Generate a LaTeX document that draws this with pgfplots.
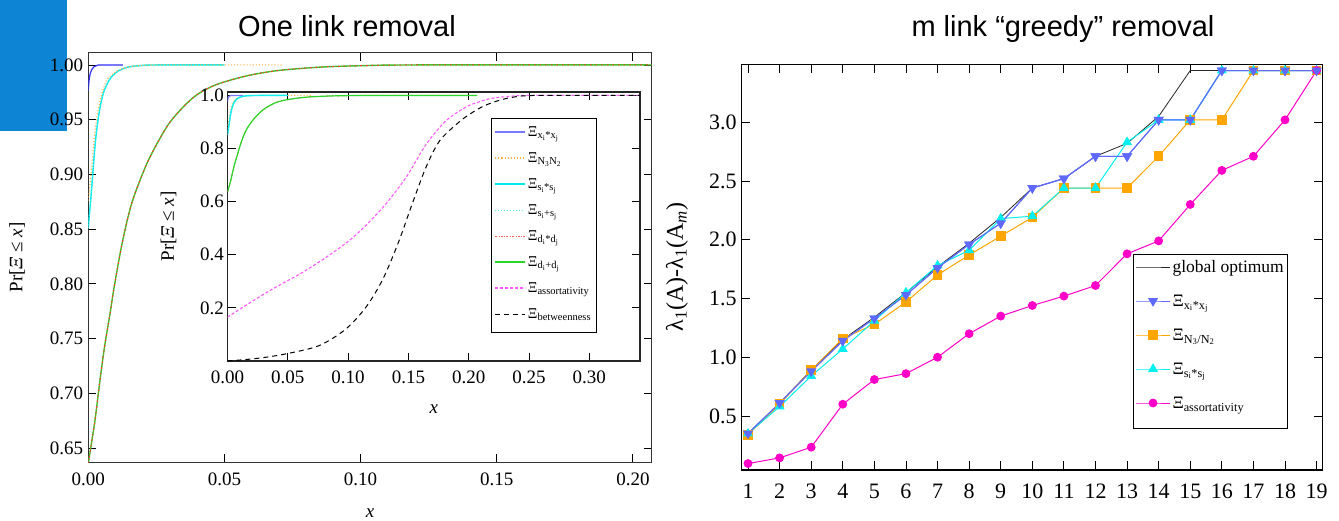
\documentclass[border=0pt]{standalone}
\usepackage{fontspec}
\setmainfont{Liberation Serif}
\newfontfamily\titlesans{Liberation Sans}
\usepackage{pgfplots}
\pgfplotsset{compat=1.18}
\usepackage{pgfplotstable}

\definecolor{slideblue}{RGB}{14,132,212}
\definecolor{cxi}{RGB}{50,50,255}
\definecolor{cxil}{RGB}{120,120,255}
\definecolor{corange}{RGB}{255,176,64}
\definecolor{ccyan}{RGB}{0,235,235}
\definecolor{cred}{RGB}{255,50,50}
\definecolor{cgreen}{RGB}{40,215,40}
\definecolor{cmag}{RGB}{255,90,255}
\definecolor{rblue}{RGB}{95,105,255}
\definecolor{rorange}{RGB}{255,165,0}
\definecolor{rcyan}{RGB}{0,240,240}
\definecolor{rmag}{RGB}{255,0,200}

% ---- One link removal: CDFs ----
\pgfplotstableread{
x y
0 0.9765
0.0003 0.986
0.0007 0.992
0.0012 0.9955
0.002 0.9982
0.0031 0.9995
0.0045 1.0
0.0127 1.0
}\tblXX
\pgfplotstableread{
x y
0 0.876
0.0005 0.888
0.001 0.900
0.0015 0.914
0.002 0.928
0.0025 0.940
0.003 0.950
0.0036 0.959
0.0045 0.969
0.0055 0.978
0.0067 0.986
0.0085 0.991
0.011 0.995
0.0145 0.998
0.019 0.9994
0.025 1.0
0.071 1.0
}\tblNN
\pgfplotstableread{
x y
0 0.851
0.0005 0.866
0.001 0.880
0.0015 0.896
0.002 0.912
0.0025 0.927
0.003 0.939
0.0036 0.950
0.0043 0.961
0.0055 0.974
0.007 0.983
0.0085 0.989
0.011 0.9945
0.0145 0.998
0.019 0.9994
0.025 1.0
0.05 1.0
}\tblSS
\pgfplotstableread{
x y
0 0.636
0.0012 0.655
0.0025 0.676
0.0043 0.712
0.006 0.743
0.008 0.773
0.0095 0.797
0.0125 0.838
0.016 0.874
0.021 0.907
0.025 0.927
0.0295 0.946
0.035 0.962
0.040 0.973
0.046 0.981
0.052 0.986
0.060 0.991
0.070 0.995
0.085 0.998
0.10 0.9993
0.12 1.0
0.207 1.0
}\tblDD
\pgfplotstableread{
x y
0 0.165
0.016 0.212
0.032 0.257
0.046 0.293
0.0597 0.327
0.08 0.385
0.1005 0.452
0.115 0.512
0.131 0.590
0.148 0.691
0.1646 0.815
0.181 0.904
0.198 0.957
0.21 0.978
0.22 0.99
0.235 0.997
0.25 1.0
0.342 1.0
}\tblAS
\pgfplotstableread{
x y
0 0.0
0.025 0.01
0.0486 0.027
0.076 0.058
0.098 0.12
0.115 0.204
0.129 0.31
0.142 0.45
0.153 0.59
0.1646 0.73
0.176 0.83
0.192 0.90
0.201 0.93
0.211 0.957
0.222 0.977
0.235 0.992
0.255 1.0
0.342 1.0
}\tblBT

% ---- m link greedy removal ----
\pgfplotstableread{
n opt xx nn ss as
1 0.35 0.35 0.34 0.35 0.095
2 0.61 0.61 0.60 0.58 0.143
3 0.89 0.88 0.89 0.84 0.234
4 1.15 1.14 1.16 1.07 0.60
5 1.34 1.33 1.28 1.31 0.81
6 1.55 1.53 1.47 1.55 0.86
7 1.77 1.76 1.70 1.78 1.00
8 1.97 1.96 1.87 1.91 1.20
9 2.19 2.14 2.03 2.18 1.35
10 2.44 2.44 2.19 2.20 1.44
11 2.52 2.52 2.44 2.44 1.52
12 2.71 2.71 2.44 2.44 1.61
13 2.82 2.71 2.44 2.83 1.88
14 3.05 3.02 2.71 3.02 1.99
15 3.44 3.02 3.02 3.02 2.30
16 3.44 3.44 3.02 3.44 2.59
17 3.44 3.44 3.44 3.44 2.71
18 3.44 3.44 3.44 3.44 3.02
19 3.44 3.44 3.44 3.44 3.44
}\tblR

\begin{document}
\begin{tikzpicture}
\useasboundingbox (0pt,-521pt) rectangle (1339pt,0pt);
\clip (0pt,-521pt) rectangle (1339pt,0pt);
\fill[white] (0pt,-521pt) rectangle (1339pt,0pt);
\fill[slideblue] (0pt,0pt) rectangle (67pt,-131pt);

\node[anchor=base, font=\titlesans\fontsize{29}{34}\selectfont, inner sep=0pt] at (347pt,-37pt) {One link removal};
\node[anchor=base, font=\titlesans\fontsize{29}{34}\selectfont, inner sep=0pt] at (1063pt,-37pt) {m link “greedy” removal};

% ===== main left axis =====
\begin{axis}[
  at={(88.3pt,-462.3pt)}, anchor=south west,
  scale only axis, width=563.4pt, height=409.6pt,
  xmin=0, xmax=0.2069, ymin=0.6369, ymax=1.0112,
  xtick={0,0.05,0.10,0.15,0.20},
  ytick={0.65,0.70,0.75,0.80,0.85,0.90,0.95,1.00},
  tick align=inside, major tick length=8pt,
  tick style={black, line width=0.9pt},
  axis line style={black!80, line width=1.1pt},
  scaled ticks=false,
  /pgf/number format/fixed, /pgf/number format/fixed zerofill,
  /pgf/number format/precision=2, /pgf/number format/assume math mode=true,
  tick label style={font=\fontsize{19}{22}\selectfont},
  xticklabel style={anchor=center, yshift=-16.7pt},
  yticklabel style={anchor=east, inner sep=0pt, xshift=-5pt},
  every axis x label/.style={at={(axis description cs:0.5,-0.1238)}, anchor=center},
  every axis y label/.style={at={(axis description cs:-0.1266,0.5)}, rotate=90, anchor=center},
  label style={font=\fontsize{19}{22}\selectfont},
  xlabel={\textit{x}},
  ylabel={Pr[\textit{Ξ} ≤ \textit{x}]},
  every axis plot/.append style={smooth, tension=0.5},
]
\addplot[cgreen, line width=1.4pt] table[x=x,y=y]{\tblDD};
\addplot[cred, line width=1pt, dash pattern=on 2pt off 1.5pt on 0.6pt off 1.5pt] table[x=x,y=y]{\tblDD};
\addplot[ccyan, line width=1.4pt] table[x=x,y=y]{\tblSS};
\addplot[ccyan!70!white, line width=1pt, dotted] table[x=x,y=y]{\tblSS};
\addplot[corange, line width=1.1pt, dotted] table[x=x,y=y]{\tblNN};
\addplot[cxi, line width=1.2pt] table[x=x,y=y]{\tblXX};
\end{axis}

% ===== inset =====
\begin{axis}[
  at={(227.5pt,-361pt)}, anchor=south west,
  scale only axis, width=412.5pt, height=269pt,
  axis background/.style={fill=white},
  xmin=0, xmax=0.342, ymin=0, ymax=1.013,
  xtick={0,0.05,0.10,0.15,0.20,0.25,0.30},
  ytick={0.2,0.4,0.6,0.8,1.0},
  tick align=inside, major tick length=8pt,
  tick style={black, line width=0.9pt},
  axis line style={black!85, line width=1.1pt},
  scaled ticks=false,
  /pgf/number format/fixed, /pgf/number format/fixed zerofill,
  /pgf/number format/assume math mode=true,
  xticklabel style={/pgf/number format/precision=2},
  yticklabel style={/pgf/number format/precision=1},
  tick label style={font=\fontsize{19}{22}\selectfont},
  xticklabel style={anchor=center, yshift=-16pt},
  yticklabel style={anchor=east, inner sep=0pt, xshift=-3.5pt},
  every axis x label/.style={at={(axis description cs:0.5,-0.1784)}, anchor=center},
  every axis y label/.style={at={(axis description cs:-0.143,0.5)}, rotate=90, anchor=center},
  label style={font=\fontsize{19}{22}\selectfont},
  xlabel={\textit{x}},
  ylabel={Pr[\textit{Ξ} ≤ \textit{x}]},
  every axis plot/.append style={smooth, tension=0.5},
  legend image code/.code={\draw[#1, sharp plot] (0pt,4.5pt) -- (30pt,4.5pt);},
  legend style={at={(axis description cs:0.6388,0.9033)}, anchor=north west,
    draw=black, line width=1pt, fill=white,
    font=\fontsize{15}{18}\selectfont,
    inner xsep=3pt, inner ysep=3pt,
    nodes={inner sep=2pt, text height=13pt, text depth=9pt, anchor=base west},
    row sep=0pt},
  legend cell align=left,
]
\addplot[cxil, line width=1.2pt] table[x=x,y=y]{\tblXX};
\addlegendentry{Ξ\textsubscript{x\textsubscript{i}*x\textsubscript{j}}}
\addplot[corange, line width=1.1pt, dotted] table[x=x,y=y]{\tblNN};
\addlegendentry{Ξ\textsubscript{N\textsubscript{3}N\textsubscript{2}}}
\addplot[ccyan, line width=1.4pt] table[x=x,y=y]{\tblSS};
\addlegendentry{Ξ\textsubscript{s\textsubscript{i}*s\textsubscript{j}}}
\addplot[ccyan!70!white, line width=1pt, dotted] table[x=x,y=y]{\tblSS};
\addlegendentry{Ξ\textsubscript{s\textsubscript{i}+s\textsubscript{j}}}
\addplot[cred!80!white, line width=1pt, dash pattern=on 2pt off 1.5pt on 0.6pt off 1.5pt] table[x=x,y=y]{\tblDD};
\addlegendentry{Ξ\textsubscript{d\textsubscript{i}*d\textsubscript{j}}}
\addplot[cgreen, line width=1.2pt] table[x=x,y=y]{\tblDD};
\addlegendentry{Ξ\textsubscript{d\textsubscript{i}+d\textsubscript{j}}}
\addplot[cmag, line width=1.1pt, dash pattern=on 3pt off 2pt] table[x=x,y=y]{\tblAS};
\addlegendentry{Ξ\textsubscript{assortativity}}
\addplot[black, line width=1pt, dash pattern=on 5pt off 4pt] table[x=x,y=y]{\tblBT};
\addlegendentry{Ξ\textsubscript{betweenness}}
\end{axis}

% ===== right axis =====
\begin{axis}[
  at={(741.7pt,-470pt)}, anchor=south west,
  scale only axis, width=580.6pt, height=405.7pt,
  xmin=0.8, xmax=19.18, ymin=0.04, ymax=3.493,
  xtick={1,2,...,19},
  ytick={0.5,1.0,1.5,2.0,2.5,3.0},
  tick align=inside, major tick length=8.5pt,
  tick style={black, line width=0.9pt},
  axis line style={black, line width=1.1pt},
  scaled ticks=false,
  /pgf/number format/assume math mode=true,
  yticklabel style={/pgf/number format/fixed, /pgf/number format/fixed zerofill, /pgf/number format/precision=1},
  tick label style={font=\fontsize{22}{26}\selectfont},
  xticklabel style={anchor=center, yshift=-21.7pt},
  yticklabel style={anchor=east, inner sep=0pt, xshift=-5pt},
  every axis y label/.style={at={(axis description cs:-0.1114,0.5)}, rotate=90, anchor=center},
  label style={font=\fontsize{24}{28}\selectfont},
  ylabel={λ\textsubscript{1}(A)-λ\textsubscript{1}(A\textsubscript{\textit{m}})},
  legend image code/.code={\draw[mark repeat=2,mark phase=2,#1] plot coordinates {(0pt,5.5pt)(17pt,5.5pt)(34pt,5.5pt)};},
  legend style={at={(axis description cs:0.674,0.5324)}, anchor=north west,
    draw=black, line width=1pt, fill=white,
    font=\fontsize{17.5}{21}\selectfont,
    inner xsep=2pt, inner ysep=2pt,
    nodes={inner sep=2pt, text height=14pt, text depth=16pt, anchor=base west},
    row sep=0pt},
  legend cell align=left,
]
\addplot[black!85, line width=0.8pt, no marks] table[x=n,y=opt]{\tblR};
\addlegendentry{global optimum}
\addplot[rblue, line width=1pt, mark=triangle*, mark size=4.8pt, mark options={rotate=180, fill=rblue, draw=rblue}] table[x=n,y=xx]{\tblR};
\addlegendentry{Ξ\textsubscript{x\textsubscript{i}*x\textsubscript{j}}}
\addplot[rorange, line width=1pt, mark=square*, mark size=4.3pt, mark options={fill=rorange, draw=rorange}] table[x=n,y=nn]{\tblR};
\addlegendentry{Ξ\textsubscript{N\textsubscript{3}/N\textsubscript{2}}}
\addplot[rcyan, line width=1pt, mark=triangle*, mark size=4.8pt, mark options={fill=rcyan, draw=rcyan}] table[x=n,y=ss]{\tblR};
\addlegendentry{Ξ\textsubscript{s\textsubscript{i}*s\textsubscript{j}}}
\addplot[rmag, line width=1pt, mark=*, mark size=3.9pt, mark options={fill=rmag, draw=rmag}] table[x=n,y=as]{\tblR};
\addlegendentry{Ξ\textsubscript{assortativity}}
\addplot[rblue, line width=1pt, mark=triangle*, mark size=4.8pt, mark options={rotate=180, fill=rblue, draw=rblue}, forget plot] table[x=n,y=xx]{\tblR};
\end{axis}
\end{tikzpicture}
\end{document}
